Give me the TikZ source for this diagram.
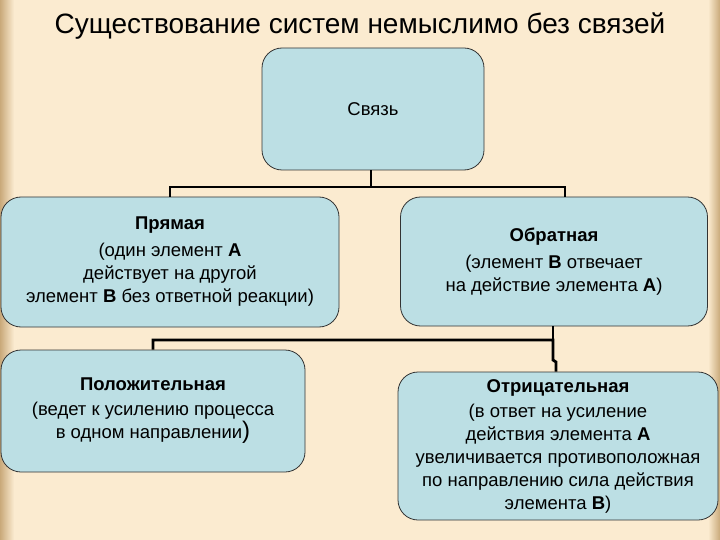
\documentclass[tikz,border=0pt]{standalone}
\usepackage{fontspec}
\setmainfont{Liberation Sans}
\begin{document}
\begin{tikzpicture}[x=1pt,y=-1pt,
  box/.style={draw=black!80,line width=0.8pt,fill=boxc,rounded corners=20pt,align=center,inner sep=0pt,font=\fontsize{18.5}{23}\selectfont},
  conn/.style={line width=2.8pt,black}]
\definecolor{bgc}{HTML}{FBEBD0}
\definecolor{edgec}{HTML}{C9A97A}
\definecolor{boxc}{HTML}{BCDFE4}
\useasboundingbox (0,0) rectangle (720,540);
\fill[bgc] (0,0) rectangle (720,540);
\shade[left color=edgec,right color=bgc] (0,0) rectangle (14,540);
\shade[left color=bgc,right color=edgec] (708,0) rectangle (720,540);
\node (title) at (360,26) {\fontsize{28}{32}\selectfont Существование систем немыслимо без связей};
\node[box,minimum width=222pt,minimum height=122pt] (svyaz) at (373,109) {Связь};
\node[box,minimum width=338pt,minimum height=130pt] (pr) at (170,262) {\textbf{Прямая}\\[4pt](один элемент \textbf{А}\\действует на другой\\элемент \textbf{В} без ответной реакции)};
\node[box,minimum width=307pt,minimum height=129pt] (ob) at (554,261.5) {\textbf{Обратная}\\[4pt](элемент \textbf{В} отвечает\\на действие элемента \textbf{А})};
\node[box,minimum width=304pt,minimum height=122pt] (pol) at (153,411) {\textbf{Положительная}\\[2pt](ведет к усилению процесса\\в одном направлении{\fontsize{24}{23}\selectfont)}};
\node[box,minimum width=320pt,minimum height=148pt] (otr) at (558,446) {\textbf{Отрицательная}\\[2pt](в ответ на усиление\\действия элемента \textbf{А}\\увеличивается противоположная\\по направлению сила действия\\элемента \textbf{В})};
\coordinate (j1) at (371,187);
\coordinate (j2) at (553,340);
\draw[conn] (svyaz.south -| j1) -- (j1);
\draw[conn] (pr.north) |- (j1) -| (ob.north -| 565,0);
\draw[conn] (ob.south -| j2) -- (j2);
\draw[conn] (pol.north) |- (j2) -- (553,360) -- (556,362) -- (otr.north -| 556,0);
\end{tikzpicture}
\end{document}
